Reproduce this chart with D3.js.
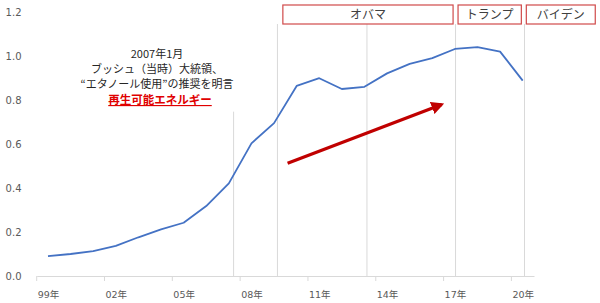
<!DOCTYPE html>
<html><head><meta charset="utf-8">
<script src="https://cdn.jsdelivr.net/npm/d3@7"></script>
<style>
html,body{margin:0;padding:0;background:#fff;}
svg{display:block;}
</style></head>
<body>
<svg id="chart" width="600" height="303"></svg>
<script>
// ---- data ----
const years = [1999,2000,2001,2002,2003,2004,2005,2006,2007,2008,2009,2010,2011,2012,2013,2014,2015,2016,2017,2018,2019,2020];
const values = [0.09,0.10,0.113,0.137,0.176,0.212,0.242,0.318,0.421,0.603,0.695,0.864,0.899,0.85,0.86,0.921,0.964,0.99,1.032,1.04,1.02,0.888];
const tickYears = [1999,2002,2005,2008,2011,2014,2017,2020];
const tickLabels = ["99年","02年","05年","08年","11年","14年","17年","20年"];
const yTicks = [0,0.2,0.4,0.6,0.8,1.0,1.2];
const presidents = ["オバマ","トランプ","バイデン"];
const presidentSpans = [[2009.39,2016.92],[2017.14,2019.94],[2020.16,2023.21]];
const markerYears = [2009.15,2013.11,2017.03,2020.08];
const eventYear = 2007.21;
const eventTop = 0.747;
const noteLines = ["2007年1月","ブッシュ（当時）大統領、","“エタノール使用”の推奨を明言"];
const noteHighlight = "再生可能エネルギー";
const arrowFrom = [2009.6,0.512];
const arrowTo = [2016.42,0.78];

// ---- layout ----
const svg = d3.select("#chart");
const x = d3.scaleLinear().domain([1998.5,2020.5]).range([36.7,534]);
const y = d3.scaleLinear().domain([0,1.2]).range([276,12]);
const gray = "#595959";

// marker lines
svg.append("g").selectAll("line").data(markerYears).join("line")
  .attr("x1",d=>x(d)).attr("x2",d=>x(d))
  .attr("y1",24).attr("y2",y(0))
  .attr("stroke","#d9d9d9").attr("stroke-width",1);
svg.append("line")
  .attr("x1",x(eventYear)).attr("x2",x(eventYear))
  .attr("y1",y(eventTop)).attr("y2",y(0))
  .attr("stroke","#d9d9d9").attr("stroke-width",1);

// y axis labels
const yAxis = d3.axisLeft(y).tickValues(yTicks).tickFormat(d3.format(".1f")).tickSize(0).tickPadding(0);
const gy = svg.append("g").attr("transform","translate(21.5,0)").call(yAxis);
gy.select(".domain").remove();
gy.selectAll("text").attr("fill",gray).style("font-family","'DejaVu Sans',sans-serif").style("font-size","10px");

// x axis
const xAxis = d3.axisBottom(x).tickValues(tickYears).tickFormat((d,i)=>tickLabels[i]).tickSize(0).tickPadding(15);
const gx = svg.append("g").attr("transform",`translate(0,${y(0)})`).call(xAxis);
gx.select(".domain").attr("stroke","#d9d9d9");
gx.selectAll("text").attr("fill",gray).style("font-family","'DejaVu Sans','Noto Sans CJK JP',sans-serif").style("font-size","9.5px");
gx.append("g").selectAll("line").data(tickYears).join("line")
  .attr("x1",d=>x(d-0.5)).attr("x2",d=>x(d-0.5))
  .attr("y1",0).attr("y2",5).attr("stroke","#d9d9d9");

// line
svg.append("path")
  .datum(years.map((yr,i)=>[yr,values[i]]))
  .attr("fill","none").attr("stroke","#4472C4").attr("stroke-width",1.8)
  .attr("stroke-linejoin","round")
  .attr("d",d3.line().x(d=>x(d[0])).y(d=>y(d[1])));

// president boxes
const boxes = svg.append("g").selectAll("g").data(presidents).join("g");
boxes.append("rect")
  .attr("x",(d,i)=>x(presidentSpans[i][0])).attr("y",5)
  .attr("width",(d,i)=>x(presidentSpans[i][1])-x(presidentSpans[i][0])).attr("height",19)
  .attr("fill","#fff").attr("stroke","#d04a4a").attr("stroke-width",1.2);
boxes.append("text")
  .attr("x",(d,i)=>(x(presidentSpans[i][0])+x(presidentSpans[i][1]))/2).attr("y",19)
  .attr("text-anchor","middle").attr("fill","#404040")
  .style("font-family","'Noto Sans CJK JP',sans-serif").style("font-size","12px")
  .text(d=>d);

// annotation
const note = svg.append("g").style("font-family","'Noto Sans CJK JP',sans-serif");
note.selectAll("text.n").data(noteLines).join("text").attr("class","n")
  .attr("x",157).attr("y",(d,i)=>58+i*14.8)
  .attr("text-anchor","middle").attr("fill","#262626").style("font-size","11px")
  .text(d=>d);
note.append("text")
  .attr("x",160).attr("y",104).attr("text-anchor","middle")
  .attr("fill","#e00000").style("font-size","11.5px").style("font-weight","bold")
  .style("text-decoration","underline")
  .text(noteHighlight);

// arrow
svg.append("defs").append("marker")
  .attr("id","ah").attr("viewBox","0 0 10 10").attr("refX",8).attr("refY",5)
  .attr("markerWidth",4).attr("markerHeight",4).attr("orient","auto")
  .append("path").attr("d","M0,0L10,5L0,10z").attr("fill","#c00000");
svg.append("line")
  .attr("x1",x(arrowFrom[0])).attr("y1",y(arrowFrom[1]))
  .attr("x2",x(arrowTo[0])).attr("y2",y(arrowTo[1]))
  .attr("stroke","#c00000").attr("stroke-width",3.2)
  .attr("marker-end","url(#ah)");
</script>
</body></html>
